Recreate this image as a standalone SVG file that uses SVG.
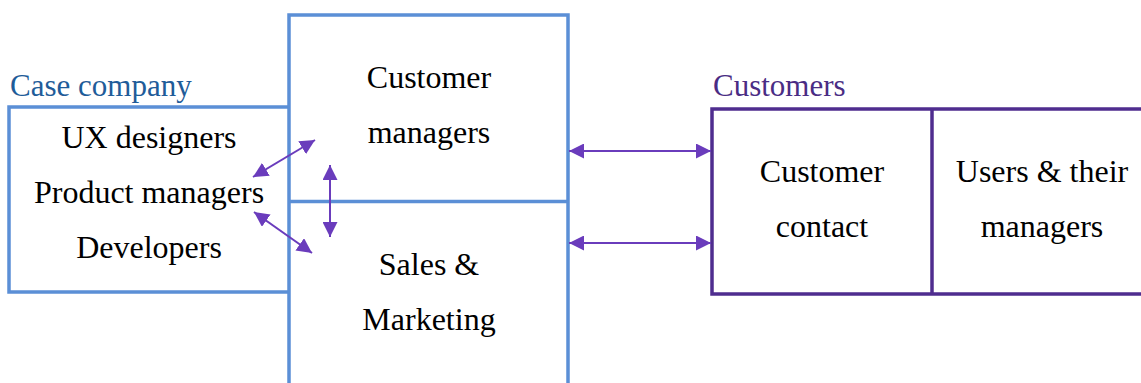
<svg xmlns="http://www.w3.org/2000/svg" width="1141" height="383" viewBox="0 0 1141 383" font-family="Liberation Serif, Tinos, Times New Roman, Times, Nimbus Roman, FreeSerif, Noto Serif, DejaVu Serif, serif" font-size="32">
<defs>
<style>
.t{fill:#000;text-anchor:middle}
.blue{fill:none;stroke:#5B8FD6;stroke-width:3.5}
.purp{fill:none;stroke:#4F2D8F;stroke-width:3.5}
.arr{stroke:#6A3CBC;stroke-width:2;fill:none;marker-start:url(#ah);marker-end:url(#ah)}
</style>
<marker id="ah" viewBox="0 0 10 10" refX="10" refY="5" markerWidth="7.5" markerHeight="7.5" orient="auto-start-reverse" markerUnits="strokeWidth">
<path d="M0,0 L10,5 L0,10 Z" fill="#6A3CBC"/>
</marker>
</defs>
<rect width="1141" height="383" fill="#fff"/>
<g id="case-company">
<path class="blue" d="M289,107 H9 V292 H289"/>
<text x="10" y="96" fill="#1F5C99" font-size="31">Case company</text>
<text class="t" x="149" y="148">UX designers</text>
<text class="t" x="149" y="203">Product managers</text>
<text class="t" x="149" y="258">Developers</text>
</g>
<g id="customer-managers">
<path class="blue" d="M289,385 V15 H568 V385"/>
<text class="t" x="429" y="88">Customer</text>
<text class="t" x="429" y="143">managers</text>
</g>
<g id="sales-marketing">
<path class="blue" d="M289,201.5 H568"/>
<text class="t" x="429" y="275">Sales &amp;</text>
<text class="t" x="429" y="330">Marketing</text>
</g>
<g id="customers">
<path class="purp" d="M1145,109 H712 V294 H1145"/>
<text x="713" y="96" fill="#4A2C84" font-size="31">Customers</text>
</g>
<g id="customer-contact">
<path class="purp" d="M932,109 V294"/>
<text class="t" x="822" y="182">Customer</text>
<text class="t" x="822" y="237">contact</text>
</g>
<g id="users">
<text class="t" x="1042" y="182">Users &amp; their</text>
<text class="t" x="1042" y="237">managers</text>
</g>
<g id="connectors">
<line class="arr" x1="253" y1="177" x2="315" y2="140"/>
<line class="arr" x1="254" y1="212" x2="312" y2="253"/>
<line class="arr" x1="330" y1="165" x2="330" y2="237"/>
<line class="arr" x1="569" y1="151" x2="711" y2="151"/>
<line class="arr" x1="569" y1="243" x2="711" y2="243"/>
</g>
</svg>
